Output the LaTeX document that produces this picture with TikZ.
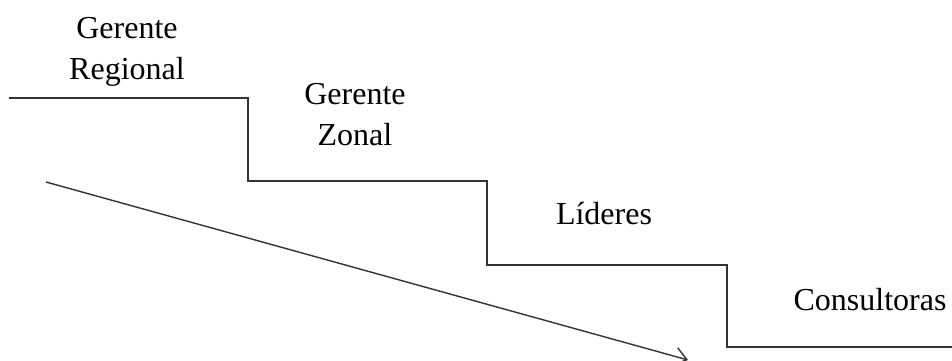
\documentclass[tikz,border=0pt]{standalone}
\usepackage{fontspec}
\setmainfont{Liberation Serif}
\usetikzlibrary{arrows.meta}
\definecolor{linegray}{HTML}{333333}
\tikzset{
  steppath/.style={draw=linegray, line width=1.6pt},
  trendarrow/.style={draw=linegray, line width=1.4pt, -{Straight Barb[length=12pt,width=18pt,line width=1.4pt]}},
  lbl/.style={inner sep=0pt, align=center, anchor=base, font=\fontsize{32}{41}\selectfont}
}
\begin{document}
\begin{tikzpicture}[x=1pt, y=-1pt]
  \useasboundingbox (0,0) rectangle (952,361);
  % step coordinates
  \coordinate (s0) at (9,98);
  \coordinate (s1) at (248,98);
  \coordinate (s2) at (248,181);
  \coordinate (s3) at (487,181);
  \coordinate (s4) at (487,265);
  \coordinate (s5) at (727,265);
  \coordinate (s6) at (727,347);
  \coordinate (s7) at (952,347);
  \draw[steppath] (s0) -- (s1) -- (s2) -- (s3) -- (s4) -- (s5) -- (s6) -- (s7);
  % trend arrow
  \coordinate (a0) at (46,182);
  \coordinate (a1) at (688,360);
  \draw[trendarrow] (a0) -- (a1);
  % labels
  \node[lbl] (gr) at (127,79) {Gerente\\Regional};
  \node[lbl] (gz) at (355,145) {Gerente\\Zonal};
  \node[lbl] (li) at (604,224) {Líderes};
  \node[lbl] (co) at (870,310) {Consultoras};
\end{tikzpicture}
\end{document}
